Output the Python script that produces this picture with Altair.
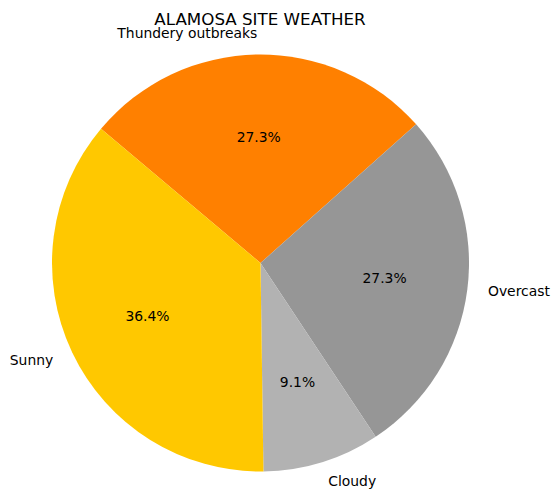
import math
import altair as alt
import pandas as pd

# clockwise order starting from the Thundery/Sunny boundary
categories = ["Thundery outbreaks", "Overcast", "Cloudy", "Sunny"]
values = [3, 3, 1, 4]
colors = ["#FF8000", "#969696", "#B2B2B2", "#FFC800"]

df = pd.DataFrame({"category": categories, "value": values, "idx": list(range(len(categories)))})

start = math.radians(-49.9)
cx, cy, r = 260.5, 233, 208.5

base = alt.Chart(df).transform_joinaggregate(
    total="sum(value)"
).transform_window(
    cum="sum(value)", sort=[alt.SortField("idx", order="ascending")], frame=[None, 0]
).transform_calculate(
    pct="format(datum.value / datum.total * 100, '.1f') + '%'",
    ang=f"{start} + (datum.cum - datum.value / 2) / datum.total * 2 * PI",
).transform_calculate(
    side="sin(datum.ang) >= 0 ? 'left' : 'right'"
).encode(
    theta=alt.Theta("value:Q", stack=True,
                    scale=alt.Scale(range=[start, start + 2 * math.pi])),
    order=alt.Order("idx:Q", sort="ascending"),
    x=alt.value(cx),
    y=alt.value(cy),
)

arcs = base.mark_arc(outerRadius=r, stroke=None).encode(
    color=alt.Color("category:N",
                    scale=alt.Scale(domain=categories, range=colors),
                    legend=None)
)

pct = base.mark_text(radius=r * 0.6, font="DejaVu Sans", fontSize=13.9,
                     color="#000000", baseline="middle", align="center").encode(
    text="pct:N"
)

labels = base.mark_text(radius=r * 1.1, font="DejaVu Sans", fontSize=13.9,
                        color="#000000", baseline="middle",
                        align=alt.expr("datum.side")).encode(
    text="category:N"
)

chart = alt.layer(arcs, pct, labels).properties(
    width=560,
    height=474,
    autosize=alt.AutoSizeParams(type="none"),
    padding={"top": 30, "left": 0, "right": 0, "bottom": 0},
    title=alt.TitleParams("ALAMOSA SITE WEATHER", font="DejaVu Sans", fontSize=16.7,
                          fontWeight="normal", color="#000000", anchor="middle",
                          baseline="alphabetic", offset=-15, dx=-20),
).configure_view(stroke=None)

chart.save("out.html", embed_options={"renderer": "svg", "actions": False})
